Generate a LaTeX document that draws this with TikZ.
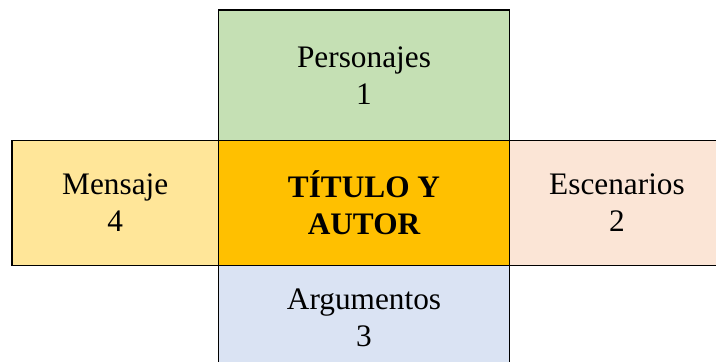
\documentclass[tikz,border=0pt]{standalone}
\usepackage{fontspec}
\setmainfont{Liberation Serif}
\definecolor{cgreen}{HTML}{C5E0B4}
\definecolor{corange}{HTML}{FFC000}
\definecolor{cyellow}{HTML}{FFE699}
\definecolor{cpeach}{HTML}{FBE5D6}
\definecolor{cblue}{HTML}{DAE3F3}
\tikzset{
  cell/.style={draw=black, line width=1.5pt, rectangle, inner sep=0pt, align=center,
    font=\fontsize{31.3}{37}\selectfont, text=black},
}
\begin{document}
\begin{tikzpicture}[x=1pt,y=-1pt]
\useasboundingbox (0,0) rectangle (716,362);
\clip (0,0) rectangle (716,362);
\node[cell, fill=cgreen, minimum width=291pt, minimum height=130.5pt] (top) at (364,75.25) {Personajes\\1};
\node[cell, fill=cyellow, minimum width=206.5pt, minimum height=125pt] (left) at (115.25,203) {Mensaje\\4};
\node[cell, fill=cpeach, minimum width=221pt, minimum height=125pt] (right) at (620,203) {};
\node[font=\fontsize{31.3}{37}\selectfont, align=center] (righttext) at (617,203) {Escenarios\\2};
\node[cell, fill=cblue, minimum width=291pt, minimum height=105pt] (bottom) at (364,318) {Argumentos\\3};
\node[cell, fill=corange, minimum width=291pt, minimum height=125pt, font=\fontsize{31.3}{37}\selectfont\bfseries] (center) at (364,203) {TÍTULO Y\\AUTOR};
\end{tikzpicture}
\end{document}
